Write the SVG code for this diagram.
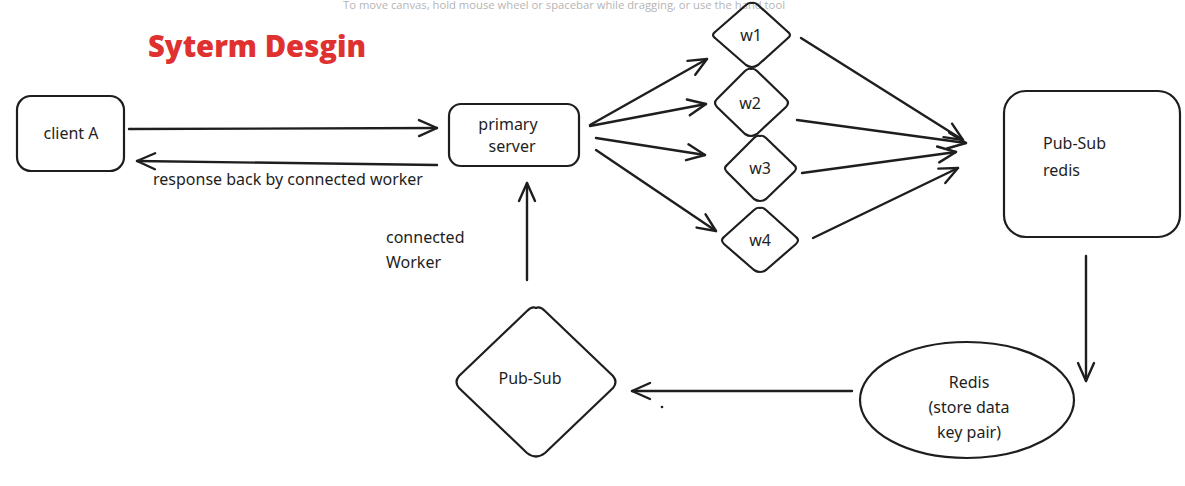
<svg xmlns="http://www.w3.org/2000/svg" width="1185" height="486" viewBox="0 0 1185 486">
<style>
.shape{fill:none;stroke:#1e1e1e;stroke-width:2.2;stroke-linejoin:round;stroke-linecap:round}
.lbl{font-family:"Comic Sans MS","Noto Sans","DejaVu Sans",sans-serif;fill:#1e1e1e;font-size:16px}
.c{text-anchor:middle}
.conn{fill:none;stroke:#1e1e1e;stroke-width:2.4;stroke-linecap:round}
.hint{font-family:"Open Sans","Noto Sans",sans-serif;font-size:10px;fill:#b5b5b5}
.title{font-family:"Open Sans","Liberation Sans",sans-serif;font-weight:800;font-size:30px;fill:#e03131}
</style>
<defs>
<marker id="ah" viewBox="0 0 22 22" refX="20" refY="11" markerWidth="22" markerHeight="22" markerUnits="userSpaceOnUse" orient="auto">
<path d="M2,3 L20,11 L2,19" fill="none" stroke="#1e1e1e" stroke-width="2.4" stroke-linecap="round" stroke-linejoin="round"/>
</marker>
</defs>
<rect width="1185" height="486" fill="#ffffff"/>
<text class="hint" x="343" y="9" textLength="442" lengthAdjust="spacingAndGlyphs">To move canvas, hold mouse wheel or spacebar while dragging, or use the hand tool</text>
<text class="title" x="148" y="57" textLength="218" lengthAdjust="spacingAndGlyphs">Syterm Desgin</text>

<g id="client-a">
<rect class="shape" x="17" y="96" width="107" height="75" rx="14"/>
<text class="lbl c" x="71" y="139" font-size="17">client A</text>
</g>
<g id="primary-server">
<rect class="shape" x="449" y="104" width="130" height="62" rx="12"/>
<text class="lbl c" x="508" y="130">primary</text>
<text class="lbl c" x="512" y="152">server</text>
</g>
<g id="w1">
<path class="shape" d="M752,3 Q755,2 758,5 L788,32 Q792,35 788,38 L758,65 Q752,69 746,65 L715,38 Q711,35 715,32 L746,5 Q749,2 752,3 Z"/>
<text class="lbl c" x="751" y="41">w1</text>
</g>
<g id="w2">
<path class="shape" d="M751,69 Q754,68 757,71 L786,99 Q790,103 786,107 L757,134 Q751,138 745,134 L717,107 Q713,103 717,99 L745,71 Q748,68 751,69 Z"/>
<text class="lbl c" x="750" y="109">w2</text>
</g>
<g id="w3">
<path class="shape" d="M760,136 Q763,135 766,138 L794,165 Q798,168 794,172 L766,199 Q760,203 754,199 L727,172 Q723,168 727,165 L754,138 Q757,135 760,136 Z"/>
<text class="lbl c" x="760" y="174">w3</text>
</g>
<g id="w4">
<path class="shape" d="M760,208 Q763,207 766,210 L796,237 Q800,240 796,244 L766,270 Q760,274 754,270 L724,244 Q720,240 724,237 L754,210 Q757,207 760,208 Z"/>
<text class="lbl c" x="760" y="246">w4</text>
</g>
<g id="pubsub-redis">
<rect class="shape" x="1004" y="91" width="176" height="146" rx="22"/>
<text class="lbl" x="1043" y="149">Pub-Sub</text>
<text class="lbl" x="1043" y="176">redis</text>
</g>
<g id="redis">
<ellipse class="shape" cx="967" cy="400" rx="107" ry="58"/>
<text class="lbl c" x="969" y="388">Redis</text>
<text class="lbl c" x="969" y="413">(store data</text>
<text class="lbl c" x="969" y="438">key pair)</text>
</g>
<g id="pubsub">
<path class="shape" d="M536,308 Q540,306 545,311 L613,376 Q618,382 613,388 L545,453 Q536,460 527,453 L459,388 Q454,382 459,376 L527,311 Q532,306 536,308 Z"/>
<text class="lbl c" x="530" y="384">Pub-Sub</text>
</g>
<g id="labels">
<text class="lbl" x="153" y="185" font-size="13.5">response back by connected worker</text>
<text class="lbl" x="386" y="243">connected</text>
<text class="lbl" x="386" y="268">Worker</text>
<circle cx="662" cy="407" r="1.3" fill="#1e1e1e"/>
</g>
<g id="connectors">
<line class="conn" x1="129" y1="129" x2="437" y2="128" marker-end="url(#ah)" stroke-width="3"/>
<line class="conn" x1="437" y1="165" x2="137" y2="161" marker-end="url(#ah)" stroke-width="3"/>
<line class="conn" x1="590" y1="125" x2="707" y2="59" marker-end="url(#ah)" stroke-width="3"/>
<line class="conn" x1="590" y1="126" x2="706" y2="104" marker-end="url(#ah)" stroke-width="3"/>
<line class="conn" x1="596" y1="138" x2="705" y2="155" marker-end="url(#ah)" stroke-width="3"/>
<line class="conn" x1="596" y1="150" x2="716" y2="231" marker-end="url(#ah)"/>
<line class="conn" x1="801" y1="38" x2="963" y2="140" marker-end="url(#ah)"/>
<line class="conn" x1="797" y1="120" x2="966" y2="143" marker-end="url(#ah)" stroke-width="3"/>
<line class="conn" x1="802" y1="173" x2="956" y2="152" marker-end="url(#ah)" stroke-width="3"/>
<line class="conn" x1="813" y1="238" x2="958" y2="168" marker-end="url(#ah)"/>
<line class="conn" x1="1086" y1="256" x2="1086" y2="381" marker-end="url(#ah)"/>
<line class="conn" x1="852" y1="391" x2="632" y2="391" marker-end="url(#ah)"/>
<line class="conn" x1="527" y1="280" x2="527" y2="183" marker-end="url(#ah)" stroke-width="3"/>
</g>
</svg>
